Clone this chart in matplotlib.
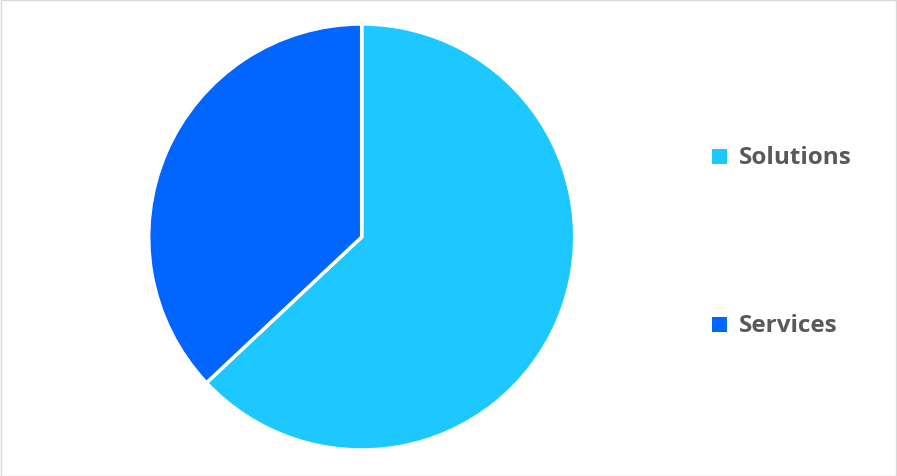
import matplotlib
matplotlib.use("Agg")
import matplotlib.pyplot as plt
from matplotlib.patches import Rectangle

categories = ["Solutions", "Services"]
values = [63, 37]
colors = ["#1CC8FF", "#0066FF"]

W, H = 897, 477
fig = plt.figure(figsize=(W / 100, H / 100), dpi=100)
fig.patch.set_facecolor("white")

cx, cy, r = 361.7, 238, 213
ax = fig.add_axes([(cx - r) / W, (H - cy - r) / H, 2 * r / W, 2 * r / H])
ax.pie(values, colors=colors, startangle=90, counterclock=False,
       wedgeprops=dict(edgecolor="white", linewidth=2.5), radius=1.0)
ax.set_xlim(-1, 1)
ax.set_ylim(-1, 1)
ax.set_aspect("equal")
ax.axis("off")

# legend
ys = [157, 325]
for lab, col, y in zip(categories, colors, ys):
    fig.patches.append(Rectangle((712 / W, (H - y - 7.5) / H), 15 / W, 15 / H,
                                 transform=fig.transFigure, facecolor=col, edgecolor="none"))
    fig.text(739 / W, (H - y - 1.5) / H, lab, fontsize=17.5, fontweight="bold",
             color="#595959", va="center", ha="left", family=["Open Sans", "DejaVu Sans"])

# border
fig.patches.append(Rectangle((0.5 / W, 0.5 / H), (W - 1.5) / W, (H - 1.5) / H,
                             transform=fig.transFigure, facecolor="none",
                             edgecolor="#D9D9D9", linewidth=1))

fig.savefig("out.png", dpi=100)
